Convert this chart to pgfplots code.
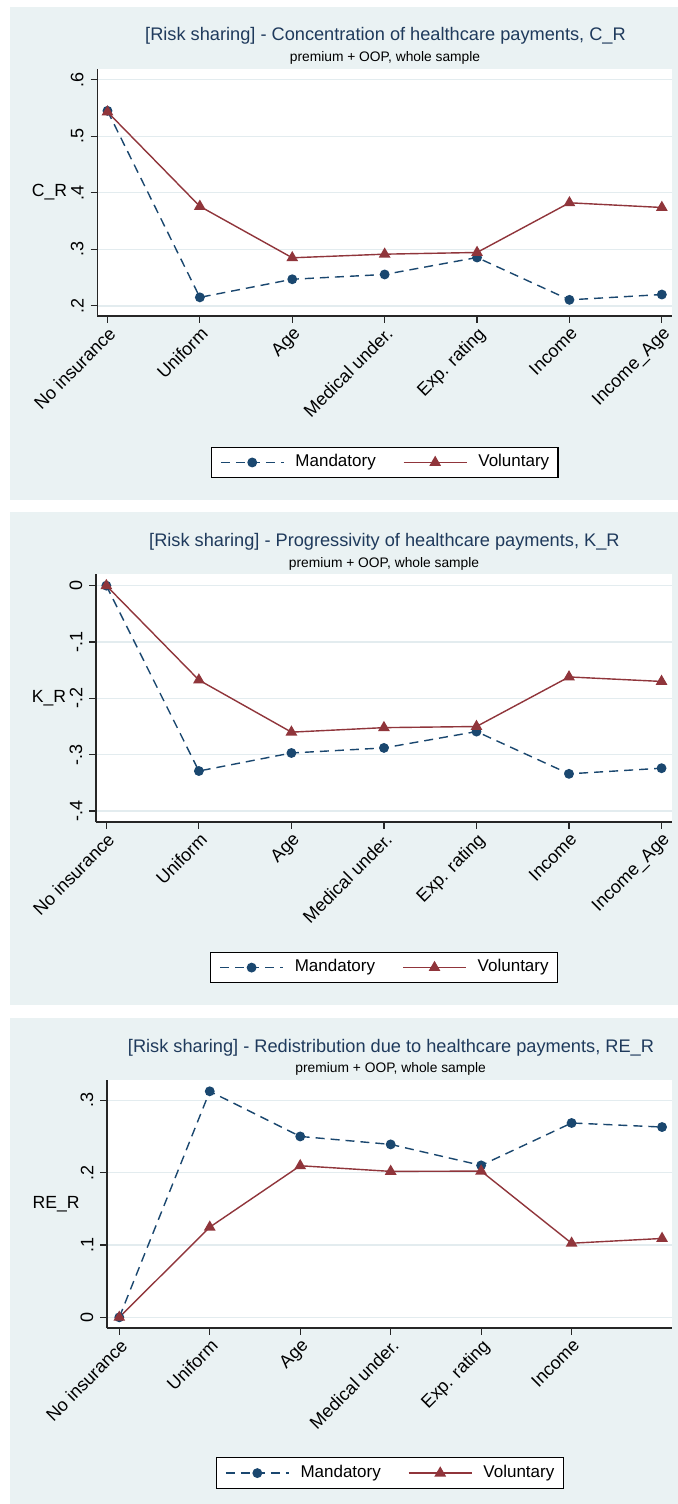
\documentclass[border=0pt]{standalone}
\usepackage{fontspec}
\setmainfont{Liberation Sans}
\usepackage{pgfplots}
\pgfplotsset{compat=1.18}

\definecolor{snavy}{HTML}{1A476F}
\definecolor{smaroon}{HTML}{90353B}
\definecolor{sbg}{HTML}{EAF2F3}
\definecolor{sgrid}{HTML}{E3ECEF}
\definecolor{stitle}{HTML}{1F3A5C}

\pgfplotsset{
 stata/.style={
   scale only axis, clip=false,
   axis lines*=left,
   axis line style={-, black!85, line width=0.6pt},
   axis background/.style={fill=white},
   ymajorgrids, major grid style={sgrid, line width=0.7pt},
   tick align=outside, major tick length=3.3pt,
   tick style={black!85, line width=0.6pt},
   xtick={0,...,6},
   xticklabels={No insurance, Uniform, Age, Medical under., Exp. rating, Income, Income\_Age},
   xticklabel style={rotate=45, anchor=north east, inner sep=1pt, font=\fontsize{9}{10}\selectfont},
   yticklabel style={rotate=90, anchor=south, font=\fontsize{9}{10}\selectfont},
   every axis y label/.style={at={(axis description cs:-0.083,0.5)}, anchor=center, font=\fontsize{8.8}{10}\selectfont},
   legend columns=2,
   legend style={draw=black, fill=white, line width=0.6pt, at={(0.5,-0.59)}, anchor=center,
     inner xsep=4.4pt, inner ysep=3.5pt, font=\fontsize{8.5}{10}\selectfont,
     nodes={inner sep=0pt, text height=6.3pt, text depth=2pt},
     /tikz/every odd column/.append style={column sep=5.5pt},
     /tikz/every even column/.append style={column sep=13.6pt}},
   legend image code/.code={\draw[mark repeat=2,mark phase=2,##1] plot coordinates {(0pt,0pt) (15.75pt,0pt) (31.5pt,0pt)};},
 },
 mand/.style={snavy, line width=0.7pt, dash pattern=on 4.5pt off 3pt, mark=*, mark size=2.1pt, mark options={solid, fill=snavy}},
 vol/.style={smaroon, line width=0.7pt, mark=triangle*, mark size=2.7pt, mark options={solid, fill=smaroon}},
}

\begin{document}
\begin{tikzpicture}
\path[use as bounding box] (0pt,0pt) rectangle (339pt,-752pt);
\fill[sbg] (5pt,-3.5pt) rectangle (339pt,-250pt);
\fill[sbg] (5pt,-256pt) rectangle (339pt,-502.5pt);
\fill[sbg] (5pt,-509pt) rectangle (339pt,-752pt);

% Panel 1
\node[text=stitle, font=\fontsize{9.1}{11}\selectfont] at (192.75pt,-18pt) {[Risk sharing] - Concentration of healthcare payments, C\_R};
\node[font=\fontsize{6.9}{8}\selectfont] at (192.5pt,-29pt) {premium + OOP, whole sample};
\begin{axis}[stata, at={(48.65pt,-158pt)}, anchor=south west,
  width=287.35pt, height=123.5pt,
  xmin=-0.11, xmax=6.11, ymin=0.182, ymax=0.619,
  ytick={0.2,0.3,0.4,0.5,0.6}, yticklabels={.2,.3,.4,.5,.6},
  ylabel={C\_R},
  every axis y label/.append style={at={(axis description cs:-0.0832,0.5)}},
  legend style={at={(0.5,-0.593)}}]
\addplot[mand] coordinates {(0,0.545) (1,0.215) (2,0.247) (3,0.2555) (4,0.2855) (5,0.2106) (6,0.220)};
\addlegendentry{Mandatory}
\addplot[vol] coordinates {(0,0.543) (1,0.376) (2,0.285) (3,0.2914) (4,0.2944) (5,0.3823) (6,0.374)};
\addlegendentry{Voluntary}
\end{axis}

% Panel 2
\node[text=stitle, font=\fontsize{9.1}{11}\selectfont] at (192.2pt,-270.85pt) {[Risk sharing] - Progressivity of healthcare payments, K\_R};
\node[font=\fontsize{6.9}{8}\selectfont] at (192pt,-282.15pt) {premium + OOP, whole sample};
\begin{axis}[stata, at={(48pt,-411pt)}, anchor=south west,
  width=288pt, height=124pt,
  xmin=-0.112, xmax=6.113, ymin=-0.4195, ymax=0.0207,
  ytick={-0.4,-0.3,-0.2,-0.1,0}, yticklabels={-.4,-.3,-.2,-.1,0},
  ylabel={K\_R},
  every axis y label/.append style={at={(axis description cs:-0.0816,0.5)}},
  legend style={at={(0.5,-0.587)}}]
\addplot[mand] coordinates {(0,0) (1,-0.329) (2,-0.297) (3,-0.288) (4,-0.259) (5,-0.334) (6,-0.324)};
\addlegendentry{Mandatory}
\addplot[vol] coordinates {(0,0) (1,-0.1675) (2,-0.260) (3,-0.252) (4,-0.250) (5,-0.162) (6,-0.170)};
\addlegendentry{Voluntary}
\end{axis}

% Panel 3
\node[text=stitle, font=\fontsize{9.1}{11}\selectfont] at (195.5pt,-523.65pt) {[Risk sharing] - Redistribution due to healthcare payments, RE\_R};
\node[font=\fontsize{6.9}{8}\selectfont] at (195.3pt,-534.65pt) {premium + OOP, whole sample};
\begin{axis}[stata, at={(53.5pt,-664pt)}, anchor=south west,
  width=282.5pt, height=124pt,
  xmin=-0.136, xmax=6.11, ymin=-0.0148, ymax=0.328,
  xtick={0,...,5},
  ytick={0,0.1,0.2,0.3}, yticklabels={0,.1,.2,.3},
  ylabel={RE\_R},
  every axis y label/.append style={at={(axis description cs:-0.0899,0.5)}},
  legend style={at={(0.5004,-0.585)}}]
\addplot[mand] coordinates {(0,0) (1,0.3124) (2,0.250) (3,0.239) (4,0.210) (5,0.2686) (6,0.263)};
\addlegendentry{Mandatory}
\addplot[vol] coordinates {(0,0) (1,0.1246) (2,0.2095) (3,0.2017) (4,0.2021) (5,0.1024) (6,0.109)};
\addlegendentry{Voluntary}
\end{axis}
\end{tikzpicture}
\end{document}
